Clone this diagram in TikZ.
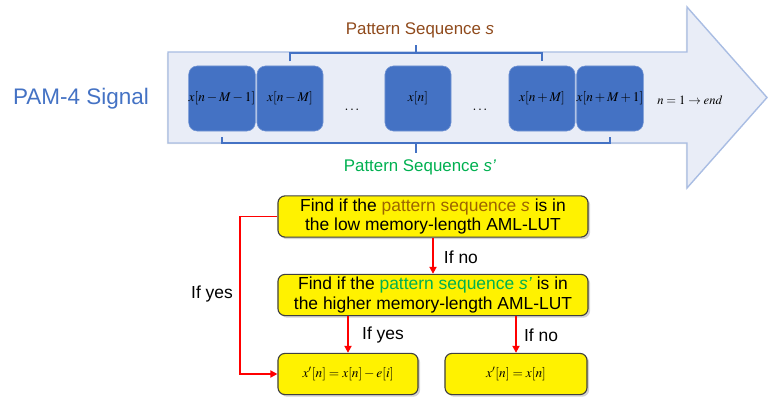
\documentclass[tikz,border=0pt]{standalone}
\usepackage{mathptmx}
\usepackage[no-math]{fontspec}
\setmainfont{Liberation Sans}
\usetikzlibrary{shadows,arrows.meta}

\definecolor{pamblue}{HTML}{4472C4}
\definecolor{streamfill}{HTML}{E9EDF7}
\definecolor{streamedge}{HTML}{A9BDE3}
\definecolor{seqbrown}{HTML}{8F4A1C}
\definecolor{lutbrown}{HTML}{9C6500}
\definecolor{seqgreen}{HTML}{00B050}

\begin{document}
\begin{tikzpicture}[x=0.025cm,y=-0.025cm]
  \tikzstyle{sample}=[rounded corners=6pt,fill=pamblue,draw=pamblue!75!white,minimum width=1.65cm,minimum height=1.625cm,inner sep=0pt,font=\fontsize{9.5}{10}\selectfont]
  \tikzstyle{brace}=[pamblue,line width=1.4pt]
  \tikzstyle{lut}=[rounded corners=5pt,fill=yellow,draw=black!75,line width=0.8pt,align=center,inner sep=0pt,minimum height=1.03cm,drop shadow={shadow xshift=1.5pt,shadow yshift=-1.5pt,opacity=0.35},font=\fontsize{12.4}{14.2}\selectfont]
  \tikzstyle{flow}=[red,line width=1.3pt,-{Triangle[length=5pt,width=5pt]}]
  \tikzstyle{answer}=[font=\fontsize{12.4}{14.2}\selectfont]

  \useasboundingbox (0,0) rectangle (768,400);

  % the signal stream
  \draw[streamedge,line width=1pt,fill=streamfill,drop shadow={shadow xshift=-0.8pt,shadow yshift=-0.8pt,opacity=0.2}]
    (168,52) -- (687,52) -- (687,7) -- (767,97.5) -- (687,188) -- (687,143) -- (168,143) -- cycle;

  \node[pamblue,font=\fontsize{16}{18}\selectfont] (pam) at (81,99) {PAM-4 Signal};

  \node[sample] (x1) at (222,98.5) {$x[n-M-1]$};
  \node[sample] (x2) at (290,98.5) {$x[n-M]$};
  \node[sample] (x3) at (418,98.5) {$x[n]$};
  \node[sample] (x4) at (542,98.5) {$x[n+M]$};
  \node[sample] (x5) at (610,98.5) {$x[n+M+1]$};
  \node (dots1) at (352,110) {$\dots$};
  \node (dots2) at (480,110) {$\dots$};
  \node[font=\fontsize{9}{10}\selectfont] (range) at (690,100) {$n=1\rightarrow end$};

  % braces over s and s'
  \coordinate (topbar) at (416,53);
  \coordinate (lowbar) at (416,143);
  \draw[brace] ([yshift=3pt]x2.north) |- (topbar) -| ([yshift=3pt]x4.north);
  \draw[brace] (topbar) -- ++(0,-8);
  \draw[brace] ([yshift=-4pt]x1.south) |- (lowbar) -| ([yshift=-4pt]x5.south);
  \draw[brace] (lowbar) -- ++(0,10);

  \node[seqbrown,font=\fontsize{12}{14}\selectfont] (seqs) at (420,30) {Pattern Sequence \textit{s}};
  \node[seqgreen,font=\fontsize{12}{14}\selectfont] (seqs2) at (420,167) {Pattern Sequence \textit{s’}};

  % look-up decisions
  \node[lut,minimum width=7.75cm] (lowlut) at (433,216.5) {Find if the \textcolor{lutbrown}{pattern sequence \textit{s}} is in\\the low memory-length AML-LUT};
  \node[lut,minimum width=7.75cm] (highlut) at (433,295) {Find if the \textcolor{seqgreen}{pattern sequence \textit{s’}} is in\\the higher memory-length AML-LUT};
  \node[lut,minimum width=3.5cm,font=\fontsize{9.5}{10}\selectfont] (corr) at (348,374) {$x'[n]=x[n]-e[i]$};
  \node[lut,minimum width=3.55cm,font=\fontsize{9.5}{10}\selectfont] (keep) at (516,374) {$x'[n]=x[n]$};

  \draw[flow] (lowlut) -- (highlut);
  \draw[flow] (highlut.south -| corr.north) -- (corr);
  \draw[flow] (highlut.south -| keep.north) -- (keep);
  \draw[flow] (lowlut.west) -- ++(-37,0) |- (corr.west);

  \node[answer,anchor=west] (no1) at (439,257) {If no};
  \node[answer] (yes1) at (212,294) {If yes};
  \node[answer] (yes2) at (383,335) {If yes};
  \node[answer] (no2) at (541,335) {If no};
\end{tikzpicture}
\end{document}
